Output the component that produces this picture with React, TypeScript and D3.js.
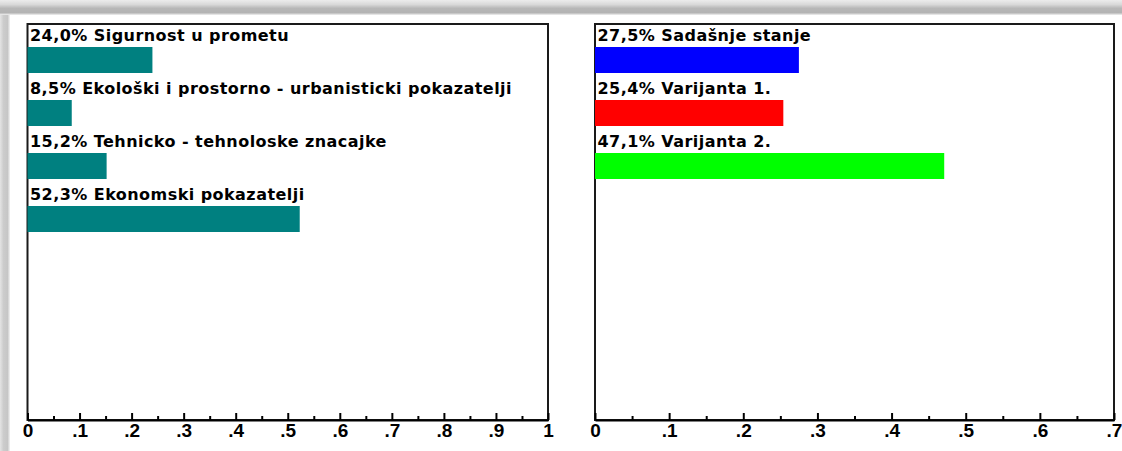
import { useEffect, useRef } from "react";
import * as d3 from "d3";

// ── Data ─────────────────────────────────────────────────────────────────────

const criteriaLabels = [
  "Sigurnost u prometu",
  "Ekološki i prostorno - urbanisticki pokazatelji",
  "Tehnicko - tehnoloske znacajke",
  "Ekonomski pokazatelji",
];
const criteriaValues = [0.24, 0.085, 0.152, 0.523];

const variantLabels = ["Sadašnje stanje", "Varijanta 1.", "Varijanta 2."];
const variantValues = [0.275, 0.254, 0.471];
const variantColors = ["#0000ff", "#ff0000", "#00ff00"];

const leftMajorTicks = [0, 0.1, 0.2, 0.3, 0.4, 0.5, 0.6, 0.7, 0.8, 0.9, 1];
const leftMinorTicks = [0.05, 0.15, 0.25, 0.35, 0.45, 0.55, 0.65, 0.75, 0.85, 0.95];
const rightMajorTicks = [0, 0.1, 0.2, 0.3, 0.4, 0.5, 0.6, 0.7];
const rightMinorTicks = [0.05, 0.15, 0.25, 0.35, 0.45, 0.55, 0.65];

const WIDTH = 1122;
const HEIGHT = 451;
const LABEL_FONT = "'DejaVu Sans', Verdana, sans-serif";
const TICK_FONT = "'Liberation Sans', Arial, sans-serif";

/** 0 -> "0", 1 -> "1", 0.3 -> ".3" like the old VB chart */
function tickFmt(v: number): string {
  if (v === 0 || v === 1) return String(v);
  return String(+v.toFixed(2)).replace(/^0/, "");
}

function pctLabel(v: number, label: string): string {
  return `${(v * 100).toFixed(1).replace(".", ",")}% ${label}`;
}

interface PanelOpts {
  x0: number;
  x1: number;
  top: number;
  bottom: number;
  labels: string[];
  values: number[];
  colors: string[];
  domainMax: number;
  major: number[];
  minor: number[];
}

function drawPanel(svg: d3.Selection<SVGSVGElement, unknown, null, undefined>, o: PanelOpts) {
  const g = svg.append("g");

  const x = d3.scaleLinear().domain([0, o.domainMax]).range([o.x0, o.x1]);
  const rowStep = 53;
  const y = d3
    .scaleBand<string>()
    .domain(o.labels)
    .range([o.top, o.top + rowStep * o.labels.length])
    .padding(0);

  // box
  g.append("rect")
    .attr("x", o.x0).attr("y", o.top)
    .attr("width", o.x1 - o.x0).attr("height", o.bottom - o.top)
    .attr("fill", "#fff")
    .attr("stroke", "#1a1a1a")
    .attr("stroke-width", 2);

  // bars + labels
  o.labels.forEach((label, i) => {
    const by = y(label) ?? 0;
    g.append("rect")
      .attr("x", x(0))
      .attr("y", by + 23)
      .attr("width", x(o.values[i]) - x(0))
      .attr("height", 26)
      .attr("fill", o.colors[i % o.colors.length]);

    g.append("text")
      .attr("x", o.x0 + 2.5)
      .attr("y", by + 17)
      .attr("font-family", LABEL_FONT)
      .attr("font-size", 16)
      .attr("font-weight", "bold")
      .attr("letter-spacing", 0.45)
      .attr("fill", "#000")
      .text(pctLabel(o.values[i], label));
  });

  // minor ticks
  g.append("g")
    .attr("transform", `translate(0,${o.bottom})`)
    .call(d3.axisBottom(x).tickValues(o.minor).tickSizeInner(-4).tickSizeOuter(0).tickFormat(() => ""))
    .call((ag) => ag.select(".domain").remove())
    .call((ag) => ag.selectAll(".tick line").attr("stroke", "#000").attr("stroke-width", 2));

  // major ticks + labels
  g.append("g")
    .attr("transform", `translate(0,${o.bottom})`)
    .call(
      d3.axisBottom(x).tickValues(o.major).tickSizeInner(-7).tickSizeOuter(0).tickPadding(4)
        .tickFormat((v) => tickFmt(Number(v)))
    )
    .call((ag) => ag.select(".domain").attr("stroke", "#000").attr("stroke-width", 2))
    .call((ag) => ag.selectAll(".tick line").attr("stroke", "#000").attr("stroke-width", 2))
    .call((ag) =>
      ag.selectAll(".tick text")
        .attr("fill", "#000")
        .attr("font-family", TICK_FONT)
        .attr("font-size", 19)
        .attr("font-weight", "bold")
    );
}

export default function App() {
  const svgRef = useRef<SVGSVGElement>(null);

  useEffect(() => {
    if (!svgRef.current) return;
    document.body.style.margin = "0";
    const svg = d3.select(svgRef.current);
    svg.selectAll("*").remove();

    // ── window shadow frame ─────────────────────────────────────────────────
    const defs = svg.append("defs");
    const topGrad = defs.append("linearGradient").attr("id", "topShade")
      .attr("x1", 0).attr("y1", 0).attr("x2", 0).attr("y2", 1);
    [
      [0, "#ececec"], [0.3, "#d9d9d9"], [0.55, "#b7b7b7"], [0.85, "#b3b3b3"], [1, "#f2f2f2"],
    ].forEach(([o, c]) => topGrad.append("stop").attr("offset", o as number).attr("stop-color", c as string));

    const leftGrad = defs.append("linearGradient").attr("id", "leftShade")
      .attr("x1", 0).attr("y1", 0).attr("x2", 1).attr("y2", 0);
    [
      [0, "#e4e4e4"], [0.35, "#cccccc"], [0.75, "#c6c6c6"], [1, "#f4f4f4"],
    ].forEach(([o, c]) => leftGrad.append("stop").attr("offset", o as number).attr("stop-color", c as string));

    svg.append("rect").attr("width", WIDTH).attr("height", HEIGHT).attr("fill", "#fff");
    svg.append("rect").attr("x", 0).attr("y", 0).attr("width", 10).attr("height", HEIGHT)
      .attr("fill", "url(#leftShade)");
    svg.append("rect").attr("x", 0).attr("y", 0).attr("width", WIDTH).attr("height", 15)
      .attr("fill", "url(#topShade)");

    drawPanel(svg, {
      x0: 27.5, x1: 548, top: 24, bottom: 420,
      labels: criteriaLabels, values: criteriaValues, colors: ["#008080"],
      domainMax: 1, major: leftMajorTicks, minor: leftMinorTicks,
    });

    drawPanel(svg, {
      x0: 595, x1: 1114, top: 24, bottom: 420,
      labels: variantLabels, values: variantValues, colors: variantColors,
      domainMax: 0.7, major: rightMajorTicks, minor: rightMinorTicks,
    });
  }, []);

  return (
    <svg
      ref={svgRef}
      width={WIDTH}
      height={HEIGHT}
      style={{ display: "block", position: "absolute", left: 0, top: 0 }}
    />
  );
}
